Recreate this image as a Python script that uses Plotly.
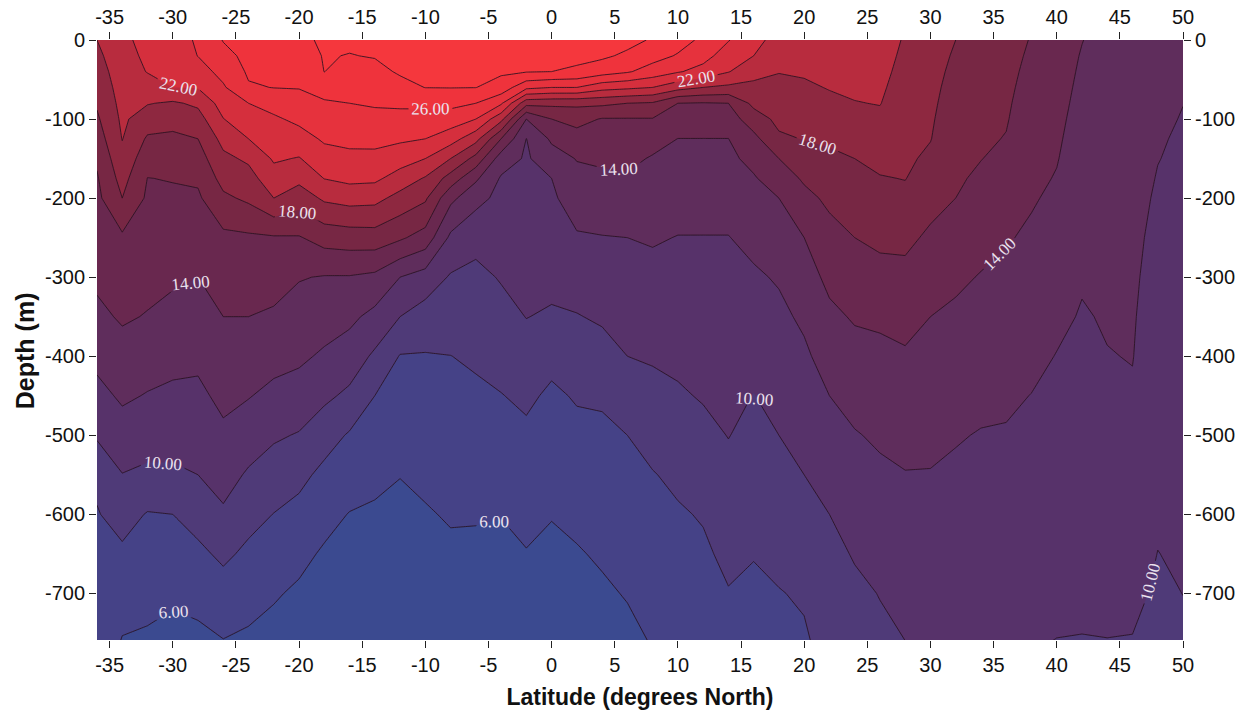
import numpy as np
import plotly.graph_objects as go

# ---------------- data ----------------
latitudes = [-36, -34, -32, -30, -28, -26, -24, -22, -20, -18, -16, -14, -12, -10, -8, -6, -4, -2,
             0, 2, 4, 6, 8, 10, 12, 14, 16, 18, 20, 22, 24, 26, 28, 30, 32, 34, 36, 38, 40, 42,
             44, 46, 48, 50]

depths = [0, -20, -40, -60, -80, -100, -125, -150, -175, -200, -250, -300, -350, -400, -450,
          -500, -550, -600, -650, -700, -760]

# temperature (deg C) profile at each latitude, surface -> bottom (same order as depths)
temperature_profiles = [
    [20.0, 19.56, 19.11, 18.67, 18.22, 17.71, 17.0, 16.29, 15.82, 15.53, 14.94, 14.35, 13.58, 12.53, 11.41, 10.24, 8.4, 7.88, 7.73, 7.58, 7.4],
    [21.5, 21.27, 21.04, 20.81, 20.58, 20.35, 20.06, 19.43, 18.71, 18.0, 15.68, 14.95, 14.22, 13.3, 12.3, 11.16, 9.95, 8.73, 7.67, 6.83, 5.9],
    [22.7, 22.39, 22.08, 21.19, 20.11, 19.0, 17.74, 16.81, 15.97, 15.68, 15.1, 14.52, 13.9, 12.9, 11.89, 10.84, 9.62, 7.88, 7.16, 6.43, 5.8],
    [23.3, 22.87, 22.43, 22.0, 19.73, 18.65, 17.61, 16.85, 16.09, 15.69, 14.99, 14.28, 13.45, 12.55, 11.64, 10.73, 9.67, 8.0, 7.11, 6.21, 5.6],
    [24.2, 24.04, 23.19, 22.11, 20.36, 19.22, 18.0, 17.14, 16.28, 15.71, 14.85, 14.0, 13.2, 12.4, 11.6, 10.8, 10.0, 8.75, 7.58, 6.53, 5.6],
    [26.1, 25.4, 24.6, 23.77, 22.86, 21.95, 20.63, 19.55, 18.69, 17.63, 15.56, 14.78, 14.0, 13.23, 12.46, 11.64, 10.73, 9.73, 8.38, 7.18, 5.95],
    [26.8, 26.52, 26.25, 25.82, 24.0, 23.11, 22.0, 20.33, 19.27, 18.36, 15.69, 14.85, 14.0, 13.05, 12.1, 10.94, 9.77, 8.64, 7.6, 6.68, 5.7],
    [27.3, 26.88, 26.46, 26.04, 24.71, 23.71, 22.97, 22.24, 21.19, 20.0, 15.81, 14.77, 13.72, 12.65, 11.5, 10.25, 9.09, 7.96, 7.05, 6.15, 5.5],
    [27.7, 27.16, 26.62, 26.08, 25.28, 24.43, 23.21, 21.89, 20.54, 18.89, 15.86, 14.11, 13.2, 12.34, 11.2, 9.87, 8.53, 7.4, 6.4, 5.77, 5.3],
    [28.2, 28.11, 28.02, 26.89, 25.74, 25.08, 24.26, 23.21, 22.05, 20.34, 16.77, 13.89, 12.84, 11.73, 10.4, 8.83, 7.5, 6.5, 5.81, 5.44, 5.0],
    [28.3, 27.94, 27.29, 26.65, 26.0, 25.32, 24.47, 23.54, 22.5, 20.76, 17.0, 13.88, 12.43, 11.07, 9.6, 7.8, 6.8, 5.94, 5.61, 5.29, 4.9],
    [28.5, 28.1, 27.51, 26.85, 26.2, 25.47, 24.53, 23.51, 22.4, 20.61, 17.11, 13.56, 11.45, 9.67, 8.0, 7.17, 6.33, 5.81, 5.49, 5.18, 4.8],
    [29.0, 28.6, 28.2, 27.44, 26.33, 25.39, 24.3, 22.88, 21.15, 19.33, 16.29, 12.0, 10.0, 7.9, 7.28, 6.65, 6.03, 5.72, 5.43, 5.15, 4.8],
    [29.0, 28.68, 28.35, 28.03, 26.43, 25.25, 24.0, 22.0, 19.82, 18.3, 15.2, 11.14, 9.12, 7.88, 7.35, 6.83, 6.31, 5.87, 5.53, 5.2, 4.8],
    [29.0, 28.68, 28.37, 28.05, 26.52, 25.03, 22.89, 20.0, 17.18, 14.5, 11.6, 9.81, 8.89, 7.98, 7.52, 7.06, 6.6, 6.14, 5.73, 5.36, 4.9],
    [29.0, 28.68, 28.35, 28.03, 26.0, 24.0, 20.67, 17.33, 14.33, 12.63, 10.55, 9.55, 8.9, 8.26, 7.68, 7.16, 6.63, 6.11, 5.73, 5.4, 5.0],
    [29.0, 28.64, 28.27, 27.23, 24.29, 20.6, 16.0, 13.0, 11.8, 11.47, 10.8, 10.13, 9.41, 8.67, 7.94, 7.3, 6.67, 6.04, 5.67, 5.32, 4.9],
    [29.0, 28.56, 28.11, 24.5, 18.67, 14.0, 11.97, 11.76, 11.55, 11.33, 10.9, 10.47, 10.04, 9.22, 8.35, 7.65, 7.06, 6.47, 5.92, 5.5, 5.0],
    [29.0, 28.5, 28.0, 24.0, 18.5, 16.0, 14.33, 13.11, 12.0, 11.7, 11.1, 10.49, 9.78, 8.53, 7.68, 7.14, 6.6, 6.05, 5.77, 5.51, 5.2],
    [29.0, 28.47, 27.69, 24.0, 18.44, 16.62, 15.23, 14.09, 13.48, 12.91, 11.81, 10.86, 9.91, 9.04, 8.17, 7.53, 6.94, 6.35, 5.88, 5.57, 5.2],
    [29.0, 28.33, 26.89, 22.75, 18.4, 15.88, 15.09, 14.31, 13.65, 13.07, 11.93, 11.09, 10.25, 9.28, 8.25, 7.63, 7.15, 6.67, 6.19, 5.77, 5.3],
    [28.6, 27.64, 26.21, 22.4, 18.0, 15.89, 15.17, 14.46, 13.79, 13.19, 12.0, 11.33, 10.67, 10.0, 9.0, 8.0, 7.52, 7.05, 6.57, 6.1, 5.6],
    [27.8, 26.74, 25.14, 22.0, 17.8, 15.9, 14.71, 13.83, 13.42, 13.0, 12.17, 11.48, 10.84, 10.19, 9.44, 8.64, 7.91, 7.48, 7.05, 6.62, 6.1],
    [26.8, 25.83, 24.17, 20.75, 16.0, 15.09, 13.98, 13.57, 13.16, 12.74, 11.95, 11.42, 10.89, 10.37, 9.79, 9.07, 8.36, 7.81, 7.43, 7.05, 6.6],
    [25.6, 24.69, 23.33, 20.0, 15.87, 15.02, 13.98, 13.57, 13.15, 12.73, 11.95, 11.49, 11.04, 10.59, 10.14, 9.52, 8.83, 8.14, 7.71, 7.34, 6.9],
    [24.1, 23.05, 22.1, 19.6, 16.0, 15.09, 13.98, 13.57, 13.15, 12.73, 11.95, 11.57, 11.19, 10.81, 10.43, 10.05, 9.51, 8.96, 8.4, 7.91, 7.5],
    [22.6, 22.0, 20.67, 19.5, 18.5, 17.0, 15.45, 14.55, 13.82, 13.38, 12.5, 11.74, 11.14, 10.55, 9.96, 9.49, 9.01, 8.54, 8.07, 7.71, 7.3],
    [21.3, 20.68, 20.06, 19.54, 19.03, 18.51, 17.67, 16.0, 15.0, 14.0, 13.09, 12.18, 11.58, 11.05, 10.53, 10.0, 9.47, 8.94, 8.4, 7.93, 7.6],
    [21.3, 20.76, 20.22, 19.7, 19.2, 18.7, 18.08, 17.19, 16.26, 15.47, 14.0, 13.17, 12.33, 11.67, 11.11, 10.56, 10.0, 9.39, 8.79, 8.18, 7.8],
    [21.3, 20.9, 20.5, 20.1, 19.57, 19.0, 18.29, 17.63, 17.0, 16.38, 15.36, 14.45, 13.6, 12.8, 12.0, 11.33, 10.67, 10.0, 9.56, 9.13, 8.6],
    [21.2, 20.89, 20.58, 20.28, 19.94, 19.39, 18.69, 18.0, 17.5, 17.0, 16.0, 15.09, 14.18, 13.38, 12.62, 11.88, 11.29, 10.71, 10.12, 9.68, 9.2],
    [21.0, 20.76, 20.53, 20.29, 20.06, 19.65, 19.06, 18.47, 17.9, 17.4, 16.4, 15.37, 14.32, 13.55, 12.9, 12.26, 11.68, 11.14, 10.59, 10.05, 9.7],
    [19.8, 19.6, 19.4, 19.2, 19.0, 18.8, 18.55, 18.3, 18.05, 17.56, 16.44, 15.47, 14.58, 13.79, 13.16, 12.53, 11.93, 11.47, 11.01, 10.55, 10.0],
    [18.8, 18.68, 18.56, 18.44, 18.33, 18.21, 18.06, 17.68, 17.16, 16.63, 15.67, 14.83, 14.0, 13.47, 12.95, 12.42, 11.92, 11.54, 11.15, 10.76, 10.3],
    [18.0, 17.8, 17.6, 17.4, 17.2, 17.0, 16.75, 16.5, 16.25, 16.0, 15.17, 14.33, 13.68, 13.16, 12.63, 12.11, 11.76, 11.46, 11.16, 10.86, 10.5],
    [17.3, 17.13, 16.96, 16.8, 16.63, 16.46, 16.25, 16.04, 15.7, 15.33, 14.59, 13.9, 13.38, 12.87, 12.36, 11.92, 11.67, 11.41, 11.16, 10.91, 10.6],
    [16.7, 16.58, 16.47, 16.35, 16.23, 16.12, 15.93, 15.57, 15.21, 14.86, 14.14, 13.63, 13.17, 12.71, 12.25, 11.88, 11.61, 11.35, 11.08, 10.82, 10.5],
    [15.9, 15.73, 15.55, 15.38, 15.21, 15.03, 14.82, 14.6, 14.38, 14.16, 13.73, 13.28, 12.84, 12.4, 11.97, 11.67, 11.37, 11.07, 10.76, 10.46, 10.1],
    [15.0, 14.88, 14.76, 14.63, 14.51, 14.39, 14.24, 14.09, 13.9, 13.68, 13.24, 12.8, 12.35, 11.95, 11.67, 11.4, 11.13, 10.85, 10.58, 10.31, 9.98],
    [14.05, 13.88, 13.75, 13.63, 13.51, 13.38, 13.23, 13.08, 12.92, 12.77, 12.46, 12.15, 11.88, 11.65, 11.41, 11.18, 10.95, 10.71, 10.48, 10.24, 9.96],
    [13.3, 13.23, 13.17, 13.1, 13.03, 12.97, 12.88, 12.8, 12.72, 12.63, 12.47, 12.3, 12.13, 11.95, 11.67, 11.4, 11.12, 10.85, 10.58, 10.3, 9.98],
    [12.8, 12.76, 12.72, 12.69, 12.65, 12.61, 12.56, 12.52, 12.47, 12.42, 12.33, 12.24, 12.14, 12.05, 11.85, 11.54, 11.23, 10.92, 10.62, 10.31, 9.95],
    [12.4, 12.35, 12.3, 12.25, 12.2, 12.15, 12.09, 12.03, 11.94, 11.84, 11.63, 11.42, 11.22, 11.01, 10.8, 10.6, 10.39, 10.19, 9.98, 9.81, 9.6],
    [12.1, 12.08, 12.05, 12.03, 12.01, 11.96, 11.88, 11.8, 11.72, 11.64, 11.47, 11.31, 11.15, 10.99, 10.82, 10.66, 10.5, 10.34, 10.18, 10.01, 9.8],
]

# contour levels (deg C)
level_start, level_end, level_step = 6, 28, 2
label_start, label_end, label_step = 6, 26, 4

# colour of each temperature band, coldest (<6) to warmest (>28)
band_colors = ["#3b4a90", "#454287", "#4f3a78", "#57326a", "#5f2d5c", "#69284f",
               "#772744", "#8e2840", "#b82c3e", "#d52f3d", "#e6323d", "#ef333c", "#f5373d"]

x_ticks = [-35, -30, -25, -20, -15, -10, -5, 0, 5, 10, 15, 20, 25, 30, 35, 40, 45, 50]
y_ticks = [0, -100, -200, -300, -400, -500, -600, -700]

x_title = "Latitude (degrees North)"
y_title = "Depth (m)"

# ---------------- figure ----------------
z = np.array(temperature_profiles).T  # rows = depths, columns = latitudes

n = len(band_colors)
colorscale = [[i / (n - 1), c] for i, c in enumerate(band_colors)]
line_color = "rgba(40,18,32,0.85)"

fill_trace = go.Contour(
    x=latitudes, y=depths, z=z,
    autocontour=False,
    contours=dict(start=level_start, end=level_end, size=level_step, coloring="fill"),
    colorscale=colorscale, showscale=False,
    line=dict(width=0, smoothing=0),
    hoverinfo="skip",
)

plain_lines = go.Contour(
    x=latitudes, y=depths, z=z,
    autocontour=False,
    contours=dict(start=level_start + level_step, end=level_end, size=2 * level_step,
                  coloring="none"),
    line=dict(color=line_color, width=1, smoothing=0),
    showscale=False, hoverinfo="skip",
)

# extra (empty) levels above the data only make plotly space labels more closely
labelled_lines = go.Contour(
    x=latitudes, y=depths, z=z,
    autocontour=False,
    contours=dict(start=label_start, end=label_start + 39 * label_step, size=label_step,
                  coloring="none", showlabels=True,
                  labelfont=dict(family="Liberation Serif", size=17, color="#ebe2ee"),
                  labelformat=".2f"),
    line=dict(color=line_color, width=1, smoothing=0),
    showscale=False, hoverinfo="skip",
)

mirror = go.Scatter(
    x=[latitudes[0], latitudes[-1]], y=[depths[-1], depths[0]],
    xaxis="x2", yaxis="y2", mode="markers", marker=dict(opacity=0),
    hoverinfo="skip", showlegend=False,
)

fig = go.Figure([fill_trace, plain_lines, labelled_lines, mirror])

tick_font = dict(family="Liberation Sans, Arial, sans-serif", size=20, color="#111111")
x_title_font = dict(family="Liberation Sans, Arial, sans-serif", size=23, color="#111111")
y_title_font = dict(family="Liberation Sans, Arial, sans-serif", size=25, color="#111111")
x_range = [-36, 50]
y_range = [-759, 0]

common_x = dict(range=x_range, tickmode="array", tickvals=x_ticks,
                ticktext=[str(v) for v in x_ticks], ticks="outside", ticklen=7,
                tickwidth=1.3, tickcolor="#222222", tickfont=tick_font,
                showgrid=False, zeroline=False, showline=False, automargin=False)
common_y = dict(range=y_range, tickmode="array", tickvals=y_ticks,
                ticktext=[str(v) for v in y_ticks], ticks="outside", ticklen=7,
                tickwidth=1.3, tickcolor="#222222", tickfont=tick_font,
                showgrid=False, zeroline=False, showline=False, automargin=False)

fig.update_layout(
    width=1243, height=718, autosize=False,
    margin=dict(l=97, r=60, t=40, b=78, pad=0, autoexpand=False),
    paper_bgcolor="white", plot_bgcolor="white",
    showlegend=False,
    xaxis=dict(**common_x,
               title=dict(text="<b>" + x_title + "</b>", font=x_title_font, standoff=13)),
    yaxis=dict(**common_y),
    xaxis2=dict(**common_x, overlaying="x", side="top", anchor="y"),
    yaxis2=dict(**common_y, overlaying="y", side="right", anchor="x"),
    annotations=[dict(text="<b>" + y_title + "</b>", font=y_title_font, textangle=-90,
                      xref="paper", yref="paper", x=-0.0663, y=0.483,
                      xanchor="center", yanchor="middle", showarrow=False)],
)

fig.write_html("out.html", config={"displayModeBar": False},
               post_script="document.body.style.margin='0';")
